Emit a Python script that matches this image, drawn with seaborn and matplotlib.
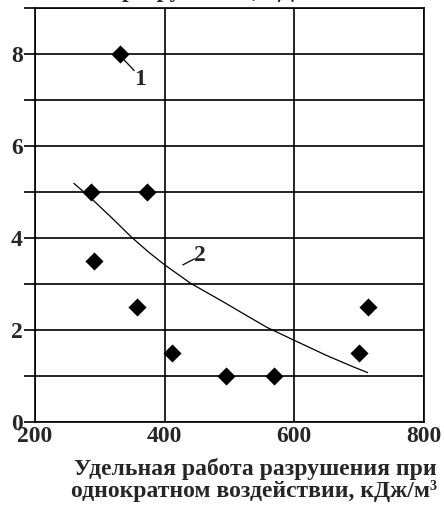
import numpy as np
import pandas as pd
import matplotlib
matplotlib.use("Agg")
import matplotlib.pyplot as plt
import seaborn as sns

# ---------- данные ----------
work_x = [331, 287, 373, 291, 358, 412, 495, 569, 700, 713]
value_y = [8.0, 5.0, 5.0, 3.5, 2.5, 1.5, 1.0, 1.0, 1.5, 2.5]

curve_x = [260, 287, 320, 349, 375, 400, 440, 490, 525, 558, 600, 650, 690, 713]
curve_y = [5.19, 4.86, 4.42, 4.02, 3.70, 3.42, 3.02, 2.62, 2.33, 2.06, 1.78, 1.45, 1.21, 1.08]

x_ticks = [200, 400, 600, 800]
y_ticks = [0, 2, 4, 6, 8]

xlabel = "Удельная работа разрушения при\nоднократном воздействии, кДж/м³"
top_text = "разрушения, кДж"

sns.set_style("white")
plt.rcParams['font.family'] = ['Liberation Serif', 'DejaVu Serif']
plt.rcParams['font.weight'] = 'bold'
FS = 17

fig = plt.figure(figsize=(4.44, 5.09), dpi=100)
ax = fig.add_axes([35/444, 1-422.3/509, (424-35)/444, (422.3-8)/509])

pts = pd.DataFrame({'x': work_x, 'y': value_y})
crv = pd.DataFrame({'x': curve_x, 'y': curve_y})

sns.lineplot(data=crv, x='x', y='y', color='black', linewidth=0.9, ax=ax, zorder=3)
sns.scatterplot(data=pts, x='x', y='y', marker='D', s=85, color='black',
                edgecolor='black', linewidth=0, ax=ax, zorder=4)

ax.set_xlim(200, 800)
ax.set_ylim(0, 9)
ax.set_xticks(x_ticks)
ax.set_yticks(range(0, 10))
ax.set_yticklabels([str(v) if v in y_ticks else '' for v in range(0, 10)])
ax.grid(True, color='black', linewidth=1.2)
ax.set_axisbelow(True)
for s in ax.spines.values():
    s.set_color('black'); s.set_linewidth(1.2); s.set_visible(True)
ax.tick_params(axis='y', length=8, width=1.2, color='black', pad=1, labelsize=FS, direction='out', left=True)
ax.tick_params(axis='x', length=0, pad=3, labelsize=FS, bottom=True)
for l in ax.get_xticklabels() + ax.get_yticklabels():
    l.set_fontweight('bold')
ax.set_xlabel(''); ax.set_ylabel('')

# метки кривых
ax.plot([335, 353], [7.91, 7.64], color='black', linewidth=0.9)
ax.text(362, 7.45, '1', ha='center', va='center', fontsize=FS, fontweight='bold')
ax.plot([428, 446], [3.42, 3.55], color='black', linewidth=0.9)
ax.text(455, 3.62, '2', ha='center', va='center', fontsize=FS, fontweight='bold')

fig.text(437/444, 1-497/509, xlabel, ha='right', va='baseline', multialignment='right',
         fontsize=FS, fontweight='bold', linespacing=1.0)
fig.text(122/444, 1+2.5/509, top_text, ha='left', va='baseline', fontsize=FS, fontweight='bold')

fig.savefig('out.png', dpi=100)
